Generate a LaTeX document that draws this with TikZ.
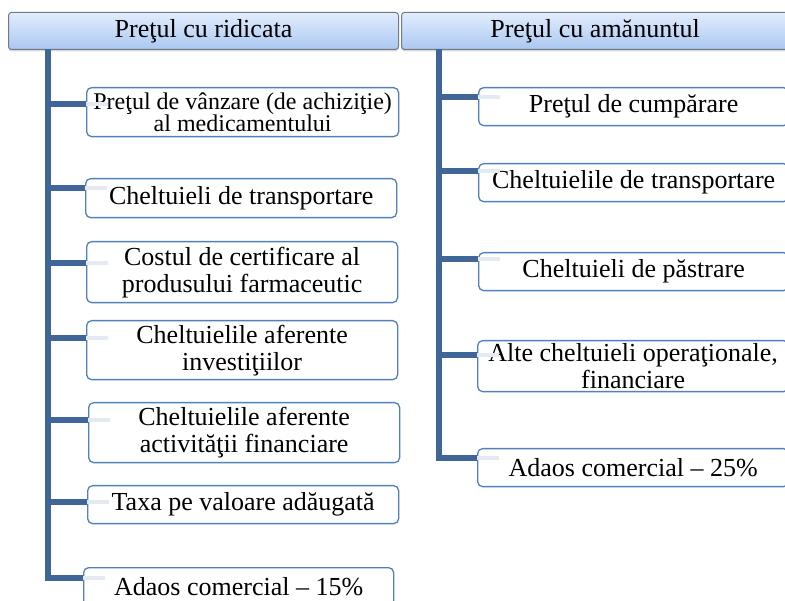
\documentclass[tikz,border=0pt]{standalone}
\usepackage{fontspec}
\setmainfont{Liberation Serif}
\usetikzlibrary{calc,shadows}

\definecolor{trunkblue}{RGB}{64,102,152}
\definecolor{boxblue}{RGB}{79,129,189}
\definecolor{hdrtop}{RGB}{226,237,253}
\definecolor{hdrbot}{RGB}{170,199,241}
\definecolor{hdrline}{RGB}{112,122,134}
\definecolor{fadebar}{RGB}{229,234,242}

\tikzset{
  hdr/.style={draw=hdrline, line width=1pt, rounded corners=3pt,
    top color=hdrtop, bottom color=hdrbot, inner sep=0pt, anchor=north west,
    font=\fontsize{26}{27}\selectfont,
    drop shadow={opacity=0.3, shadow xshift=0pt, shadow yshift=-2pt}},
  item/.style={draw=boxblue, line width=1.3pt, fill=white, rounded corners=5pt,
    inner sep=0pt, align=center, anchor=north west},
  conn/.style={draw=trunkblue, line width=5.5pt},
  fade/.style={draw=fadebar, line width=4pt},
}

\begin{document}
\begin{tikzpicture}[x=1pt,y=-1pt]
\useasboundingbox (0,0) rectangle (785,601);

% headers
\node[hdr, minimum width=390pt, minimum height=37pt] (hdrL) at (8,12) {Preţul cu ridicata};
\node[hdr, minimum width=387pt, minimum height=37pt] (hdrR) at (401,12) {Preţul cu amănuntul};

\coordinate (tL) at (48,49);
\coordinate (tR) at (439,49);

% boxes: name/trunk/x/y/width/height/connector offset/font/skip/text
\foreach \nm/\tr/\x/\y/\w/\h/\dy/\fs/\ls/\txt in {
  l1/tL/86/87/312/49/17/24/22/{Preţul de vânzare (de achiziţie)\\ al medicamentului},
  l2/tL/85/178/311/39/10/26/27/{Cheltuieli de transportare},
  l3/tL/86/241/311/61/22/26/27/{Costul de certificare al\\ produsului farmaceutic},
  l4/tL/86/320/311/59/18/26/27/{Cheltuielile aferente\\ investiţiilor},
  l5/tL/88/402/311/60/18/26/27/{Cheltuielile aferente\\ activităţii financiare},
  l6/tL/87/485/311/38/17/26/27/{Taxa pe valoare adăugată},
  l7/tL/83/567/310/38/11/26/27/{Adaos comercial – 15\%},
  r1/tR/478/87/310/38/10/26/27/{Preţul de cumpărare},
  r2/tR/478/163/310/38/8/26/27/{Cheltuielile de transportare},
  r3/tR/478/252/310/38/7/26/27/{Cheltuieli de păstrare},
  r4/tR/477/340/311/51/15/26/27/{Alte cheltuieli operaţionale,\\ financiare},
  r5/tR/477/448/311/38/10/26/27/{Adaos comercial – 25\%}}
{
  \node[item, minimum width=\w pt, minimum height=\h pt,
        font=\fontsize{\fs}{\ls}\selectfont] (\nm) at (\x,\y) {\txt};
  \coordinate (\nm-c) at ($(\nm.north west)+(0,\dy)$);
  \draw[conn] (\tr |- \nm-c) -- (\nm-c);
  \draw[fade] (\nm-c) -- ++(22,0);
}

% trunks
\draw[conn] (tL) |- (l7-c);
\draw[conn] (tR) |- (r5-c);
\end{tikzpicture}
\end{document}
